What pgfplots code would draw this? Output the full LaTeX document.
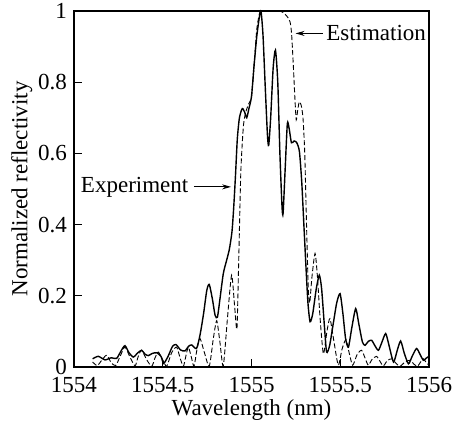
\documentclass[border=0pt]{standalone}
\usepackage{fontspec}
\setmainfont{Liberation Serif}
\usepackage{pgfplots}
\pgfplotsset{compat=1.18}
\usetikzlibrary{arrows.meta}

\begin{document}
\begin{tikzpicture}
\begin{axis}[
    scale only axis,
    width=355pt, height=356pt,
    xmin=1554, xmax=1556, ymin=0, ymax=1,
    xtick={1554,1554.5,1555,1555.5,1556},
    xticklabels={1554,1554.5,1555,1555.5,1556},
    ytick={0,0.2,0.4,0.6,0.8,1},
    yticklabels={0,0.2,0.4,0.6,0.8,1},
    /pgf/number format/assume math mode=true,
    tick align=inside, tick pos=left,
    major tick length=8pt,
    tick style={line width=1pt, black},
    axis line style={line width=1.1pt},
    font=\fontsize{23}{27}\selectfont,
    xticklabel style={inner sep=1pt, yshift=-9pt},
    yticklabel style={inner sep=1pt, xshift=-6pt},
    xlabel={Wavelength (nm)},
    ylabel={Normalized reflectivity},
    xlabel style={inner sep=1pt, at={(axis description cs:0.5,-0.12)}, anchor=center},
    ylabel style={at={(axis description cs:-0.147,0.5)}, anchor=center},
    clip=false,
]
% experiment (solid)
\addplot[black, line width=1.4pt, smooth, tension=0.4] coordinates {
(1554.105,0.023) (1554.137,0.030) (1554.175,0.020) (1554.21,0.026) (1554.24,0.024)
(1554.265,0.045) (1554.287,0.060) (1554.31,0.040) (1554.334,0.028) (1554.36,0.040)
(1554.381,0.047) (1554.40,0.036) (1554.419,0.032) (1554.44,0.038) (1554.466,0.040)
(1554.49,0.030) (1554.505,0.010) (1554.53,0.030) (1554.555,0.058) (1554.575,0.063)
(1554.60,0.048) (1554.625,0.045) (1554.645,0.058) (1554.663,0.062) (1554.69,0.052)
(1554.71,0.090) (1554.73,0.150) (1554.748,0.215) (1554.762,0.232) (1554.78,0.190)
(1554.795,0.145) (1554.808,0.140) (1554.822,0.190) (1554.841,0.262) (1554.86,0.300)
(1554.875,0.330) (1554.89,0.380) (1554.90,0.450) (1554.91,0.540) (1554.92,0.640)
(1554.932,0.700) (1554.948,0.726) (1554.962,0.715) (1554.973,0.700) (1554.985,0.725)
(1555.00,0.760) (1555.015,0.850) (1555.03,0.930) (1555.045,0.985) (1555.054,0.998)
(1555.065,0.930) (1555.078,0.780) (1555.09,0.650) (1555.097,0.623) (1555.108,0.700)
(1555.122,0.840) (1555.135,0.890) (1555.148,0.800) (1555.16,0.600) (1555.172,0.450)
(1555.178,0.432) (1555.19,0.560) (1555.202,0.684) (1555.212,0.670) (1555.225,0.630)
(1555.24,0.635) (1555.255,0.630) (1555.27,0.605) (1555.283,0.520) (1555.295,0.400)
(1555.307,0.280) (1555.318,0.180) (1555.33,0.127) (1555.345,0.150) (1555.365,0.220)
(1555.382,0.258) (1555.395,0.220) (1555.41,0.120) (1555.423,0.042) (1555.44,0.060)
(1555.46,0.120) (1555.48,0.180) (1555.499,0.206) (1555.515,0.150) (1555.53,0.080)
(1555.546,0.056) (1555.565,0.110) (1555.587,0.164) (1555.605,0.120) (1555.625,0.070)
(1555.64,0.061) (1555.658,0.072) (1555.677,0.075) (1555.695,0.060) (1555.715,0.047)
(1555.735,0.070) (1555.756,0.094) (1555.775,0.060) (1555.80,0.014) (1555.82,0.045)
(1555.84,0.073) (1555.86,0.040) (1555.884,0.009) (1555.905,0.030) (1555.93,0.052)
(1555.95,0.035) (1555.968,0.019) (1555.985,0.025) (1556.00,0.030)
};
% estimation (dashed)
\addplot[black, line width=0.9pt, dash pattern=on 5pt off 2.5pt, smooth, tension=0.4] coordinates {
(1554.105,0.014) (1554.131,0.004) (1554.158,0.020) (1554.184,0.033) (1554.21,0.012)
(1554.235,0.004) (1554.26,0.030) (1554.287,0.056) (1554.315,0.028) (1554.344,0.003)
(1554.362,0.030) (1554.381,0.047) (1554.41,0.020) (1554.438,0.002) (1554.456,0.025)
(1554.475,0.042) (1554.50,0.020) (1554.522,0.002) (1554.55,0.040) (1554.578,0.056)
(1554.598,0.025) (1554.616,0.002) (1554.63,0.030) (1554.644,0.056) (1554.66,0.030)
(1554.676,0.002) (1554.693,0.050) (1554.71,0.080) (1554.735,0.040) (1554.762,0.002)
(1554.785,0.080) (1554.804,0.130) (1554.822,0.070) (1554.841,0.003) (1554.865,0.140)
(1554.888,0.258) (1554.905,0.170) (1554.918,0.108) (1554.928,0.300) (1554.94,0.550)
(1554.955,0.680) (1554.97,0.720) (1554.985,0.740) (1555.0,0.760) (1555.015,0.850)
(1555.03,0.950) (1555.048,0.998) (1555.07,1.0) (1555.1,1.0) (1555.13,1.0)
(1555.16,1.0) (1555.18,0.995) (1555.2,0.985) (1555.217,0.970) (1555.226,0.935)
(1555.236,0.843) (1555.245,0.750) (1555.252,0.694) (1555.26,0.720) (1555.269,0.745)
(1555.28,0.735) (1555.29,0.700) (1555.30,0.600) (1555.31,0.400) (1555.32,0.220)
(1555.328,0.180) (1555.34,0.250) (1555.358,0.319) (1555.372,0.250) (1555.386,0.140)
(1555.405,0.037) (1555.425,0.100) (1555.442,0.136) (1555.465,0.070) (1555.489,0.005)
(1555.51,0.050) (1555.532,0.077) (1555.55,0.040) (1555.57,0.005) (1555.595,0.035)
(1555.62,0.047) (1555.64,0.025) (1555.658,0.005) (1555.68,0.022) (1555.705,0.030)
(1555.725,0.015) (1555.743,0.003) (1555.765,0.018) (1555.79,0.023) (1555.815,0.010)
(1555.837,0.002) (1555.865,0.014) (1555.893,0.019) (1555.915,0.008) (1555.935,0.002)
(1555.95,0.012) (1555.968,0.023) (1555.985,0.012) (1556.0,0.005)
};
% annotations
\draw[-{Stealth[length=9pt,width=5pt]}, line width=1pt] (axis cs:1555.401,0.937) -- (axis cs:1555.248,0.937);
\node[anchor=west, inner sep=0pt] at (axis cs:1555.42,0.937) {Estimation};
\draw[-{Stealth[length=9pt,width=5pt]}, line width=1pt] (axis cs:1554.676,0.506) -- (axis cs:1554.885,0.506);
\node[anchor=east, inner sep=0pt] at (axis cs:1554.645,0.506) {Experiment};
\end{axis}
% page margins as in the reference
\path (current axis.south west) ++(-74pt,-56pt) rectangle ([shift={(26pt,11pt)}]current axis.north east);
\end{tikzpicture}
\end{document}
